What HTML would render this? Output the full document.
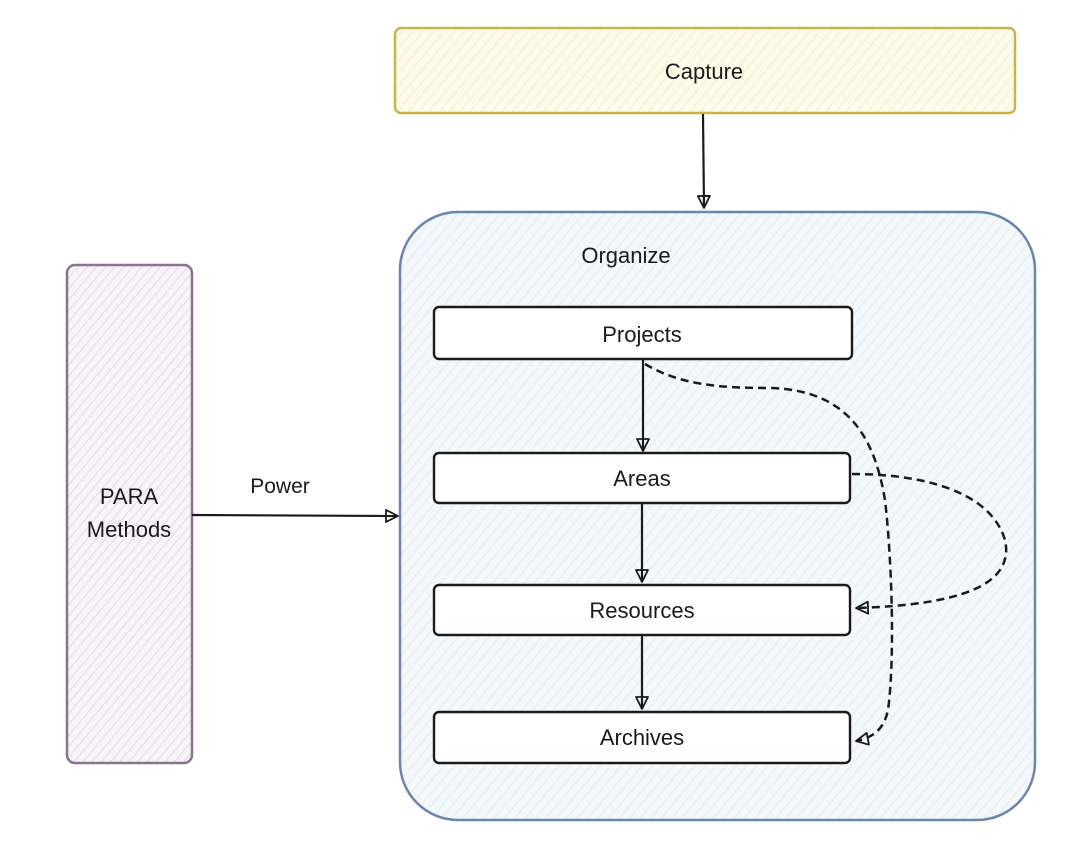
<!DOCTYPE html>
<html><head><meta charset="utf-8"><style>
html,body{margin:0;padding:0;background:#fff;}
svg{display:block;}
text{font-family:"Liberation Sans",sans-serif;fill:#1a1a1a;}
</style></head><body>
<svg width="1080" height="847" viewBox="0 0 1080 847" xmlns="http://www.w3.org/2000/svg">
<defs>
<pattern id="hy" width="8" height="8" patternUnits="userSpaceOnUse" patternTransform="rotate(40)">
<rect width="8" height="8" fill="#fdfbea"/><line x1="0" y1="0" x2="0" y2="8" stroke="#ece6c0" stroke-width="1"/></pattern>
<pattern id="hb" width="8" height="8" patternUnits="userSpaceOnUse" patternTransform="rotate(40)">
<rect width="8" height="8" fill="#f3f8fb"/><line x1="0" y1="0" x2="0" y2="8" stroke="#d6e3ea" stroke-width="1"/></pattern>
<pattern id="hp" width="7" height="7" patternUnits="userSpaceOnUse" patternTransform="rotate(40)">
<rect width="7" height="7" fill="#f8f3f8"/><line x1="0" y1="0" x2="0" y2="7" stroke="#d8c8d8" stroke-width="1.2"/></pattern>
<marker id="ar" markerWidth="16" markerHeight="16" refX="13" refY="7" orient="auto" markerUnits="userSpaceOnUse">
<path d="M1,1 L13,7 L1,13 Z" fill="none" stroke="#1a1a1a" stroke-width="1.8" stroke-linejoin="round"/></marker>
</defs>

<rect x="395" y="28" width="620" height="85" rx="6" fill="url(#hy)" stroke="#c9b545" stroke-width="2.5"/>
<text x="704" y="79" font-size="22" text-anchor="middle">Capture</text>
<line x1="703" y1="114" x2="704" y2="208" stroke="#1a1a1a" stroke-width="2.2" marker-end="url(#ar)"/>

<rect x="400" y="212" width="635" height="608" rx="58" fill="url(#hb)" stroke="#6a85b0" stroke-width="2.5"/>
<text x="626" y="263" font-size="22" text-anchor="middle">Organize</text>

<rect x="67" y="265" width="125" height="498" rx="8" fill="url(#hp)" stroke="#8a7290" stroke-width="2.5"/>
<text x="129" y="504" font-size="22" text-anchor="middle">PARA</text>
<text x="129" y="537" font-size="22" text-anchor="middle">Methods</text>
<line x1="192" y1="515" x2="398" y2="516" stroke="#1a1a1a" stroke-width="2.2" marker-end="url(#ar)"/>
<text x="280" y="493" font-size="21" text-anchor="middle">Power</text>

<g fill="#fff" stroke="#1a1a1a" stroke-width="2.4">
<rect x="434" y="307" width="418" height="52" rx="5"/>
<rect x="434" y="453" width="416" height="50" rx="5"/>
<rect x="434" y="585" width="416" height="50" rx="5"/>
<rect x="434" y="712" width="416" height="51" rx="5"/>
</g>
<g font-size="22" text-anchor="middle">
<text x="642" y="342">Projects</text>
<text x="642" y="486">Areas</text>
<text x="642" y="618">Resources</text>
<text x="642" y="745">Archives</text>
</g>

<g stroke="#1a1a1a" stroke-width="2.2" fill="none">
<line x1="643" y1="360" x2="643" y2="451" marker-end="url(#ar)"/>
<line x1="642" y1="504" x2="642" y2="582" marker-end="url(#ar)"/>
<line x1="642" y1="636" x2="642" y2="709" marker-end="url(#ar)"/>
</g>

<g stroke="#1a1a1a" stroke-width="2.5" fill="none" stroke-dasharray="8,5">
<path d="M645,364 C680,385 720,388 770,388 C850,390 875,440 885,500 C892,560 895,660 888,710 C884,730 872,738 856,741" marker-end="url(#ar)"/>
<path d="M852,474 C920,474 990,490 1005,540 C1015,585 960,605 856,608" marker-end="url(#ar)"/>
</g>
</svg>
</body></html>
